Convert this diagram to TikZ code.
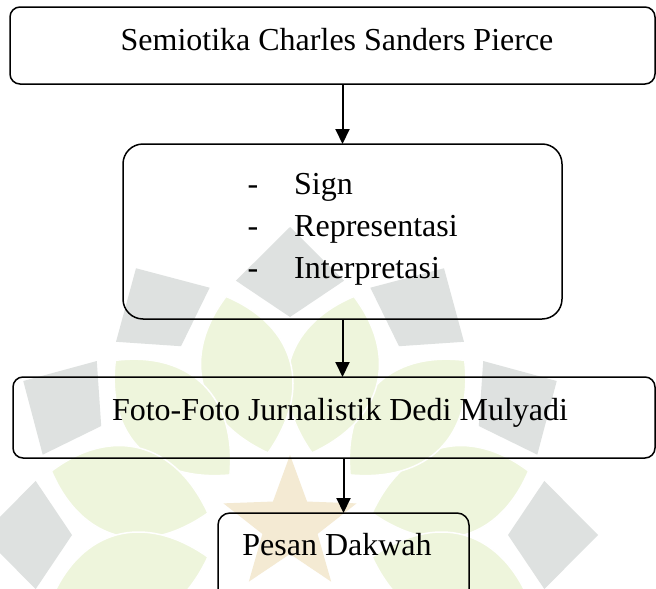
\documentclass[tikz,border=0pt]{standalone}
\usepackage{fontspec}
\setmainfont{Liberation Serif}
\usetikzlibrary{arrows.meta}
\definecolor{wmgrey}{HTML}{DEE1E0}
\definecolor{wmgreen}{HTML}{EEF5DC}
\definecolor{wmtan}{HTML}{F4EAD3}
\begin{document}
\begin{tikzpicture}[x=1pt,y=-1pt,
  box/.style={draw=black, line width=1.5pt, inner sep=0pt, outer sep=0pt},
  txt/.style={inner sep=0pt, font=\fontsize{32}{38}\selectfont, anchor=base},
  itemtxt/.style={inner sep=0pt, font=\fontsize{32}{38}\selectfont, anchor=base west},
  arr/.style={line width=2pt, -{Triangle[width=14pt,length=15pt]}},
  wmleaf/.style={fill=wmgreen, draw=white, line width=1.5pt},
  wmpetal/.style={fill=wmgrey}
]
\useasboundingbox (0,0) rectangle (656,589);
\clip (0,0) rectangle (656,589);
\fill[white] (0,0) rectangle (656,589);
% watermark
\begin{scope}[shift={(290,535)}, x=1pt, y=1pt]
 \foreach \a in {0,30,...,330} {
   \fill[wmpetal] (\a:308) -- (\a+12:260) -- (\a:218) -- (\a-12:260) -- cycle;
 }
 \foreach \a in {15,45,...,345} {
   \path[wmleaf, rotate=\a] (85,0) .. controls (135,60) and (200,60) .. (247,0) .. controls (200,-60) and (135,-60) .. (85,0) -- cycle;
 }
\end{scope}
\begin{scope}[shift={(290,525)}, x=1pt, y=1pt]
 \fill[wmtan] (90:70) -- (126:29) -- (162:70) -- (198:29) -- (234:70) -- (270:29) -- (306:70) -- (342:29) -- (18:70) -- (54:29) -- cycle;
\end{scope}
% diagram
\node[box, rounded corners=10pt, minimum width=645pt, minimum height=77pt] (b1) at (332.5,45.5) {};
\node[txt] (t1) at (337,50) {Semiotika Charles Sanders Pierce};
\node[box, rounded corners=20pt, minimum width=439pt, minimum height=175pt] (b2) at (342.5,231.5) {};
\node[txt] (d1) at (253,194) {-};
\node[txt] (d2) at (253,236) {-};
\node[txt] (d3) at (253,278) {-};
\node[itemtxt] (s1) at (294,194) {Sign};
\node[itemtxt] (s2) at (294,236) {Representasi};
\node[itemtxt] (s3) at (294,278) {Interpretasi};
\node[box, rounded corners=10pt, minimum width=642pt, minimum height=81pt] (b3) at (334,417.5) {};
\node[txt] (t3) at (340,420) {Foto-Foto Jurnalistik Dedi Mulyadi};
\node[box, rounded corners=12pt, minimum width=251pt, minimum height=110pt] (b4) at (343.5,568) {};
\node[txt] (t4) at (337,555) {Pesan Dakwah};
\draw[arr] (b1.south -| b2.north) -- (b2.north);
\draw[arr] (b2.south) -- (b2.south |- b3.north);
\draw[arr] (b3.south -| b4.north) -- (b4.north);
\end{tikzpicture}
\end{document}
